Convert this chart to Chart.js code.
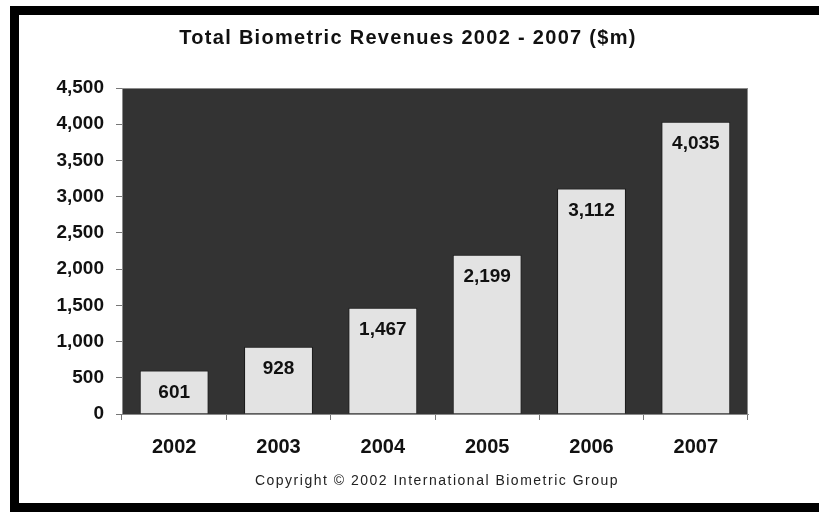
<!DOCTYPE html>
<html>
<head>
<meta charset="utf-8">
<title>Total Biometric Revenues 2002 - 2007</title>
<script src="https://cdn.jsdelivr.net/npm/chart.js@4.4.0/dist/chart.umd.min.js"></script>
<style>
    html, body {
        margin: 0;
        padding: 0;
        background: #fff;
        overflow: hidden;
    }
    #wrap {
        position: relative;
        width: 819px;
        height: 515px;
    }
    #frame {
        position: absolute;
        left: 10px;
        top: 6px;
        width: 805px;
        height: 488px;
        border: 9px solid #000;
        pointer-events: none;
    }
</style>
</head>
<body>
<div id="wrap">
    <canvas id="myBarChart" width="819" height="515"></canvas>
    <div id="frame"></div>
</div>
<script>
// 차트 데이터
var years = ['2002', '2003', '2004', '2005', '2006', '2007'];
var revenues = [601, 928, 1467, 2199, 3112, 4035];
var yTicks = [0, 500, 1000, 1500, 2000, 2500, 3000, 3500, 4000, 4500];

var titleText = 'Total Biometric Revenues 2002 - 2007 ($m)';
var copyText = 'Copyright \u00A9 2002 International Biometric Group';

var fontName = '"Liberation Sans", Arial, sans-serif';

function fmt(v) {
    return Number(v).toLocaleString('en-US');
}

// 플롯 영역 배경 + 제목, 저작권 문구
var decorPlugin = {
    id: 'decor',
    beforeDraw: function (chart) {
        var ctx = chart.ctx;
        var a = chart.chartArea;
        ctx.save();
        ctx.fillStyle = '#fff';
        ctx.fillRect(0, 0, chart.width, chart.height);
        ctx.fillStyle = '#333333';
        ctx.fillRect(a.left, a.top, a.right - a.left, a.bottom - a.top);
        ctx.strokeStyle = '#8a8a8a';
        ctx.lineWidth = 1;
        ctx.strokeRect(a.left + 0.5, a.top + 0.5, a.right - a.left - 1, a.bottom - a.top);
        ctx.restore();
    },
    afterDraw: function (chart) {
        var ctx = chart.ctx;
        ctx.save();
        ctx.fillStyle = '#111';
        ctx.textAlign = 'center';
        ctx.textBaseline = 'middle';
        ctx.font = 'bold 20px ' + fontName;
        ctx.letterSpacing = '1.3px';
        ctx.fillText(titleText, 408, 38);
        ctx.font = '14px ' + fontName;
        ctx.letterSpacing = '1.5px';
        ctx.fillStyle = '#222';
        ctx.fillText(copyText, 437, 481);

        // 막대 안쪽 값 라벨
        var meta = chart.getDatasetMeta(0);
        ctx.font = 'bold 19px ' + fontName;
        ctx.letterSpacing = '0px';
        ctx.fillStyle = '#111';
        meta.data.forEach(function (bar, i) {
            ctx.fillText(fmt(revenues[i]), bar.x, bar.y + 22);
        });
        ctx.restore();
    }
};

var ctx = document.getElementById('myBarChart').getContext('2d');
var myBarChart = new Chart(ctx, {
    type: 'bar',
    data: {
        labels: years,
        datasets: [{
            data: revenues,
            backgroundColor: '#e3e3e3',
            borderColor: '#1a1a1a',
            borderWidth: 1,
            categoryPercentage: 1,
            barPercentage: 0.66
        }]
    },
    options: {
        responsive: false,
        animation: false,
        devicePixelRatio: 1,
        layout: {
            padding: { left: 19, top: 88, right: 71, bottom: 51 }
        },
        plugins: {
            legend: { display: false },
            tooltip: { enabled: false }
        },
        scales: {
            x: {
                afterFit: function (scale) { scale.height = 50; },
                grid: {
                    offset: true,
                    drawOnChartArea: false,
                    tickLength: 6,
                    color: '#777'
                },
                border: { color: '#8a8a8a', width: 1 },
                ticks: {
                    padding: 15,
                    color: '#111',
                    font: { family: fontName, size: 20, weight: 'bold' }
                }
            },
            y: {
                min: 0,
                max: 4500,
                afterFit: function (scale) { scale.width = 103; },
                afterBuildTicks: function (scale) {
                    scale.ticks = yTicks.map(function (v) { return { value: v }; });
                },
                grid: {
                    drawOnChartArea: false,
                    tickLength: 6,
                    color: '#777'
                },
                border: { color: '#8a8a8a', width: 1 },
                ticks: {
                    padding: 12,
                    color: '#111',
                    font: { family: fontName, size: 19, weight: 'bold' },
                    callback: function (v) { return fmt(v); }
                }
            }
        }
    },
    plugins: [decorPlugin]
});
</script>
</body>
</html>
